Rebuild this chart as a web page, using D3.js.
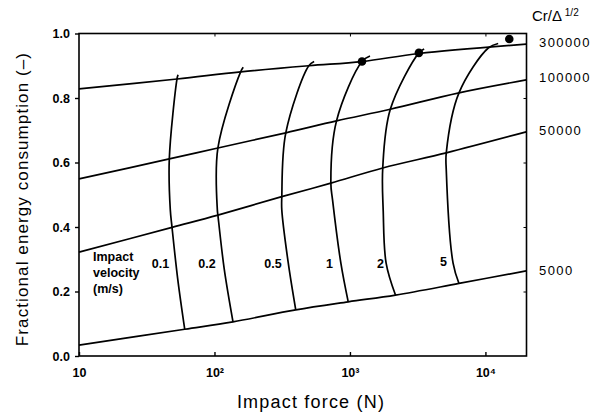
<!DOCTYPE html>
<html>
<head>
<meta charset="utf-8">
<script src="https://d3js.org/d3.v7.min.js"></script>
<style>
  body { margin: 0; background: #fff; }
  svg text { font-family: "Liberation Sans", Arial, sans-serif; fill: #000; }
  .tick-lbl { font-size: 12.5px; font-weight: bold; }
  .title { font-size: 17px; letter-spacing: 1.1px; }
</style>
</head>
<body>
<div id="chart"></div>
<script>
// Cr / Delta^1/2 lines (nearly straight in log x)
var crLabels = ["300000", "100000", "50000", "5000"];
var crX = [
  [10, 53, 156, 497, 1227, 3228, 20000],
  [10, 46.4, 106, 336, 796, 1986, 6380, 20000],
  [10, 48.6, 106, 314, 723, 1746, 5140, 20000],
  [10, 60.3, 137, 398, 971, 2168, 6380, 20000]
];
var crY = [
  [0.828, 0.859, 0.881, 0.900, 0.913, 0.938, 0.967],
  [0.549, 0.611, 0.645, 0.692, 0.729, 0.765, 0.816, 0.856],
  [0.322, 0.399, 0.437, 0.494, 0.536, 0.583, 0.630, 0.695],
  [0.034, 0.083, 0.106, 0.143, 0.168, 0.189, 0.225, 0.264]
];
var crLabelY = [0.972, 0.863, 0.70, 0.266];

// impact velocity curves (m/s)
var velLabels = ["0.1", "0.2", "0.5", "1", "2", "5"];
var velX = [
  [53.8, 52.9, 46.4, 47.2, 48.6, 53.5, 60.3],
  [163, 156, 106, 105, 106, 118, 137],
  [544, 497, 336, 314, 314, 350, 398],
  [1406, 1227, 796, 723, 744, 857, 971],
  [3530, 3228, 1986, 1746, 1760, 1849, 2168],
  [12420, 10500, 6380, 5140, 5140, 5770, 6380]
];
var velY = [
  [0.872, 0.859, 0.611, 0.453, 0.399, 0.24, 0.083],
  [0.895, 0.881, 0.645, 0.453, 0.437, 0.27, 0.106],
  [0.913, 0.900, 0.692, 0.494, 0.453, 0.29, 0.143],
  [0.930, 0.913, 0.729, 0.536, 0.484, 0.288, 0.168],
  [0.952, 0.940, 0.765, 0.583, 0.45, 0.288, 0.189],
  [0.969, 0.955, 0.816, 0.630, 0.577, 0.288, 0.225]
];
var velLabelX = [40, 88, 270, 705, 1680, 4900];
var velLabelY = [0.285, 0.285, 0.285, 0.285, 0.285, 0.29];

// measured points
var dotX = [1227, 3228, 15000];
var dotY = [0.913, 0.940, 0.983];

var xTicks = [10, 100, 1000, 10000];
var xTickText = ["10", "10²", "10³", "10⁴"];
var yTicks = [0, 0.2, 0.4, 0.6, 0.8, 1.0];

var W = 613, H = 414;
var pLeft = 79, pTop = 33.5, pRight = 526.5, pBottom = 356;

var svg = d3.select("#chart").append("svg")
    .attr("width", W)
    .attr("height", H);

var x = d3.scaleLog().domain([10, 20100]).range([pLeft, pRight]);
var y = d3.scaleLinear().domain([0, 1]).range([pBottom, pTop]);

// frame
svg.append("rect")
    .attr("x", pLeft).attr("y", pTop)
    .attr("width", pRight - pLeft).attr("height", pBottom - pTop)
    .attr("fill", "none").attr("stroke", "#000").attr("stroke-width", 1.6);

// y axis
var yAxis = svg.append("g")
    .attr("transform", "translate(" + pLeft + ",0)")
    .call(d3.axisLeft(y).tickValues(yTicks).tickFormat(d3.format(".1f")).tickSize(4).tickPadding(5));
yAxis.select(".domain").remove();
yAxis.selectAll("text").attr("class", "tick-lbl");
yAxis.selectAll("line").attr("stroke-width", 1.4);

// right side ticks
var yRight = svg.append("g")
    .attr("transform", "translate(" + pRight + ",0)")
    .call(d3.axisRight(y).tickValues([0.2, 0.4, 0.6, 0.8]).tickFormat("").tickSize(-3));
yRight.select(".domain").remove();

// x axis
var xAxis = svg.append("g")
    .attr("transform", "translate(0," + pBottom + ")")
    .call(d3.axisBottom(x).tickValues(xTicks)
        .tickFormat(function(d, i) { return xTickText[i]; })
        .tickSize(-4).tickPadding(12));
xAxis.select(".domain").remove();
xAxis.selectAll("text").attr("class", "tick-lbl");
xAxis.selectAll("line").attr("stroke-width", 1.4);

var xTop = svg.append("g")
    .attr("transform", "translate(0," + pTop + ")")
    .call(d3.axisTop(x).tickValues([100, 1000, 10000]).tickFormat("").tickSize(-3));
xTop.select(".domain").remove();

var lineGen = d3.line()
    .x(function(d) { return x(d[0]); })
    .y(function(d) { return y(d[1]); })
    .curve(d3.curveCatmullRom);

// constant Cr lines
crX.forEach(function(xs, i) {
    var pts = xs.map(function(v, j) { return [v, crY[i][j]]; });
    svg.append("path")
        .attr("d", lineGen(pts))
        .attr("fill", "none")
        .attr("stroke", "#000")
        .attr("stroke-width", 1.7);
    svg.append("text")
        .style("font-size", "13px")
        .style("letter-spacing", "1.4px")
        .attr("x", 539)
        .attr("y", y(crLabelY[i]) + 4.5)
        .text(crLabels[i]);
});

// velocity curves
velX.forEach(function(xs, i) {
    var pts = xs.map(function(v, j) { return [v, velY[i][j]]; });
    svg.append("path")
        .attr("d", lineGen(pts))
        .attr("fill", "none")
        .attr("stroke", "#000")
        .attr("stroke-width", 1.7);
    svg.append("text")
        .attr("class", "tick-lbl")
        .attr("x", x(velLabelX[i]))
        .attr("y", y(velLabelY[i]) + 4)
        .attr("text-anchor", "middle")
        .text(velLabels[i]);
});

// dots
svg.selectAll(".dot")
    .data(dotX)
    .enter().append("circle")
    .attr("cx", function(d) { return x(d); })
    .attr("cy", function(d, i) { return y(dotY[i]); })
    .attr("r", 4.3)
    .attr("fill", "#000");

// impact velocity label
var iv = svg.append("text").attr("class", "tick-lbl").attr("x", 93).attr("y", 261);
iv.append("tspan").attr("x", 93).attr("dy", 0).text("Impact");
iv.append("tspan").attr("x", 93).attr("dy", 16).text("velocity");
iv.append("tspan").attr("x", 93).attr("dy", 16).text("(m/s)");

// Cr/Delta header
var hdr = svg.append("text").attr("x", 532).attr("y", 21).style("font-size", "15px");
hdr.append("tspan").text("Cr/Δ");
hdr.append("tspan").attr("dy", -5).style("font-size", "10px").text(" 1/2");

// axis titles
svg.append("text")
    .attr("class", "title")
    .style("font-size", "18px")
    .style("letter-spacing", "1.2px")
    .attr("x", 311)
    .attr("y", 408)
    .attr("text-anchor", "middle")
    .text("Impact force (N)");

svg.append("text")
    .attr("class", "title")
    .attr("transform", "translate(28,199) rotate(-90)")
    .attr("text-anchor", "middle")
    .text("Fractional energy consumption (–)");
</script>
</body>
</html>
